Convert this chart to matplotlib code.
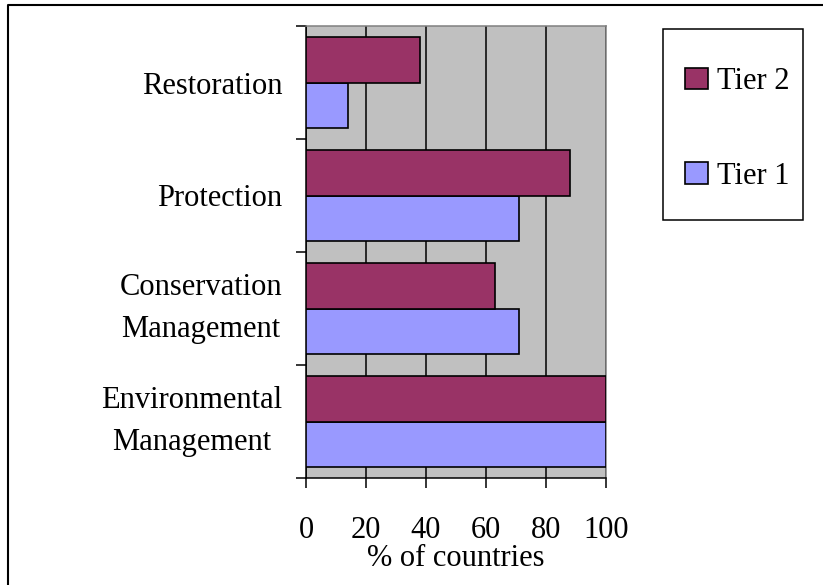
import matplotlib
matplotlib.use('Agg')
import matplotlib.pyplot as plt
from matplotlib.lines import Line2D
from matplotlib.patches import Rectangle
import numpy as np

# data, bottom to top
categories = ['Environmental\nManagement', 'Conservation\nManagement',
              'Protection', 'Restoration']
tier1 = [100, 71, 71, 14]
tier2 = [100, 63, 88, 38]
x_ticks = [0, 20, 40, 60, 80, 100]

TIER1_COLOR = '#9999FF'
TIER2_COLOR = '#993366'
FS = 22

plt.rcParams['font.family'] = ['Liberation Serif', 'DejaVu Serif']

W, H = 823, 585
fig = plt.figure(figsize=(W / 100, H / 100), dpi=100)
ax = fig.add_axes([306 / W, 1 - 478 / H, 300 / W, 452 / H])
ax.set_facecolor('#C0C0C0')

y = np.arange(len(categories))
h = 0.4
b1 = ax.barh(y - h / 2, tier1, height=h, color=TIER1_COLOR,
             edgecolor='black', linewidth=1.2, label='Tier 1', zorder=3)
b2 = ax.barh(y + h / 2, tier2, height=h, color=TIER2_COLOR,
             edgecolor='black', linewidth=1.2, label='Tier 2', zorder=3)

ax.set_xlim(0, 100)
ax.set_ylim(-0.5, len(categories) - 0.5)
ax.set_xticks(x_ticks)
ax.set_xticklabels([str(v) for v in x_ticks], fontsize=FS)
ax.tick_params(axis='x', direction='out', length=7, width=1.1, pad=20)

# major ticks at category boundaries, labels on minor ticks at centres
ax.set_yticks(np.arange(-0.5, len(categories), 1.0))
ax.set_yticklabels([])
ax.tick_params(axis='y', which='major', direction='out', length=7, width=1.1)
ax.set_yticks(y, minor=True)
ax.set_yticklabels(categories, minor=True, fontsize=FS,
                   multialignment='center', linespacing=1.6)
ax.tick_params(axis='y', which='minor', length=0, pad=17)
for lbl in ax.get_yticklabels(minor=True):
    if '\n' in lbl.get_text():
        lbl.set_verticalalignment('center')

ax.xaxis.grid(True, color='black', linewidth=1.1, zorder=0)
ax.set_axisbelow(True)

for s in ('left', 'bottom'):
    ax.spines[s].set_color('black')
    ax.spines[s].set_linewidth(1.1)
for s in ('top', 'right'):
    ax.spines[s].set_color('#808080')
    ax.spines[s].set_linewidth(1.1)

ax.set_xlabel('% of countries', fontsize=FS, labelpad=0)

# legend box
fig.add_artist(Rectangle((663 / W, 1 - 220 / H), 140 / W, 191 / H,
                         transform=fig.transFigure, fill=False,
                         edgecolor='black', linewidth=1.1))
fig.legend(handles=[b2, b1], labels=['Tier 2', 'Tier 1'],
           loc='center', bbox_to_anchor=(737 / W, 1 - 129 / H),
           frameon=False, fontsize=FS, handlelength=0.75,
           handleheight=0.7, handletextpad=0.3, labelspacing=2.15)

# outer frame: top and left edge only
fig.add_artist(Line2D([8 / W, 8 / W, 1], [0, 1 - 5 / H, 1 - 5 / H],
                      transform=fig.transFigure, color='black',
                      linewidth=1.5))

fig.savefig('out.png', dpi=100)
